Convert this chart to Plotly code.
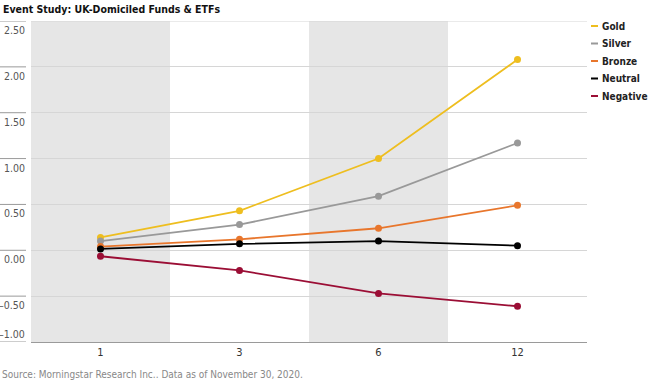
import plotly.graph_objects as go

categories = ["1", "3", "6", "12"]
gold = [0.14, 0.43, 1.00, 2.08]
silver = [0.10, 0.28, 0.59, 1.17]
bronze = [0.04, 0.12, 0.24, 0.49]
neutral = [0.015, 0.07, 0.10, 0.05]
negative = [-0.065, -0.22, -0.47, -0.61]

series_names = ["Gold", "Silver", "Bronze", "Neutral", "Negative"]
series_values = [gold, silver, bronze, neutral, negative]
series_colors = ["#EEBE1F", "#999999", "#E8762C", "#000000", "#9B0E35"]

y_ticks = [2.5, 2.0, 1.5, 1.0, 0.5, 0.0, -0.5, -1.0]
y_tick_labels = ["2.50", "2.00", "1.50", "1.00", "0.50", "0.00", "\u20130.50", "\u20131.00"]

FONT = "DejaVu Sans Condensed, Liberation Sans Narrow, Roboto, sans-serif"

fig = go.Figure()
for name, vals, col in zip(series_names, series_values, series_colors):
    fig.add_trace(go.Scatter(
        x=categories, y=vals, mode="lines+markers", name=name,
        line=dict(color=col, width=1.8),
        marker=dict(color=col, size=7),
        showlegend=False, hoverinfo="skip",
    ))

PW = 556
PH = 321
shapes = []
for c in (0, 2):
    shapes.append(dict(type="rect", xref="x", yref="paper", x0=c - 0.5, x1=c + 0.5,
                       y0=0, y1=1, fillcolor="#E6E6E6", line=dict(width=0), layer="below"))
annotations = []
for v, lab in zip(y_ticks, y_tick_labels):
    shapes.append(dict(type="line", xref="paper", yref="y", x0=-31 / PW, x1=-5 / PW,
                       y0=v, y1=v, line=dict(color="#9A9A9A", width=1)))
    annotations.append(dict(xref="paper", yref="y", x=-4 / PW, y=v, text=lab,
                            showarrow=False, xanchor="right", yanchor="middle",
                            yshift=(8 if v == y_ticks[-1] else -9),
                            font=dict(family=FONT, size=10.5, color="#555555")))
shapes.append(dict(type="line", xref="paper", yref="y", x0=0, x1=1, y0=2.5, y1=2.5,
                   line=dict(color="#D6D6D6", width=1), layer="below"))

for i, (name, col) in enumerate(zip(series_names, series_colors)):
    yp = 26 + i * 17.5
    annotations.append(dict(xref="paper", yref="paper", x=(600 - 31) / PW,
                            y=1 - (yp - 21) / PH, text="<b>" + name + "</b>",
                            showarrow=False, xanchor="left", yanchor="middle",
                            font=dict(family=FONT, size=10, color="#222222")))
    shapes.append(dict(type="line", xref="paper", yref="paper",
                       x0=(591 - 31) / PW, x1=(598 - 31) / PW,
                       y0=1 - (yp - 21) / PH, y1=1 - (yp - 21) / PH,
                       line=dict(color=col, width=2)))

annotations.append(dict(xref="paper", yref="paper", x=-31 / PW, y=1 + 12 / PH,
                        text="<b>Event Study: UK-Domiciled Funds &amp; ETFs</b>",
                        showarrow=False, xanchor="left", yanchor="middle", xshift=1,
                        font=dict(family=FONT, size=10.5, color="#111111")))
annotations.append(dict(xref="paper", yref="paper", x=-31 / PW, y=-32 / PH,
                        text="Source: Morningstar Research Inc.. Data as of November 30, 2020.",
                        showarrow=False, xanchor="left", yanchor="middle", xshift=0,
                        font=dict(family=FONT, size=10, color="#888888")))

fig.update_layout(
    width=650, height=385,
    margin=dict(l=31, r=63, t=21, b=43),
    paper_bgcolor="white", plot_bgcolor="white",
    shapes=shapes, annotations=annotations,
    font=dict(family=FONT), hovermode=False,
    xaxis=dict(type="category", range=[-0.5, 3.5], showgrid=False, zeroline=False,
               showline=True, linecolor="#9A9A9A", linewidth=1, ticks="",
               tickfont=dict(family=FONT, size=11, color="#333333")),
    yaxis=dict(range=[-1, 2.5], dtick=0.5, tick0=0, showgrid=True, gridcolor="#D6D6D6",
               gridwidth=1, zeroline=False, showticklabels=False, ticks=""),
)
fig.write_html("out.html", config={"displayModeBar": False},
               post_script="document.body.style.margin='0';document.body.style.padding='0';")
